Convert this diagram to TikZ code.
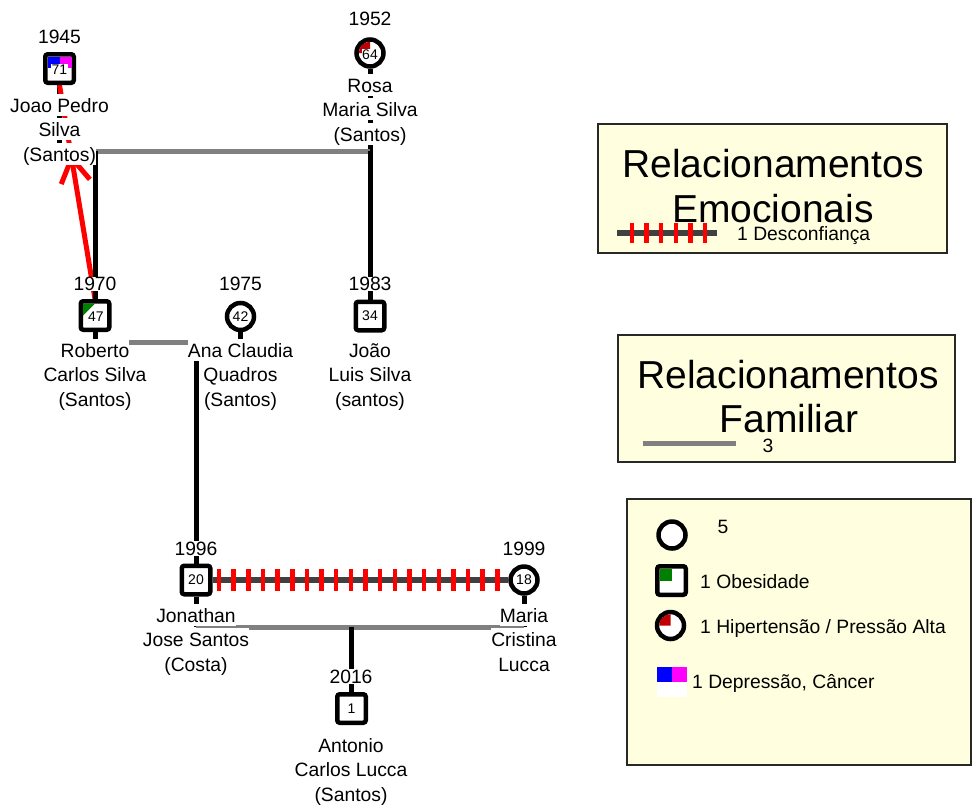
\documentclass[tikz,border=0pt]{standalone}
\usepackage{fontspec}
\setmainfont{Liberation Sans}
\usetikzlibrary{decorations.markings,calc}
\pgfdeclarelayer{back}
\pgfsetlayers{back,main}

\definecolor{legfill}{RGB}{255,255,224}
\definecolor{legedge}{RGB}{40,40,40}
\definecolor{famgray}{RGB}{128,128,128}
\definecolor{emogray}{RGB}{64,64,64}
\definecolor{hyperred}{RGB}{192,0,0}
\definecolor{obgreen}{RGB}{0,128,0}
\definecolor{depblue}{RGB}{0,0,255}
\definecolor{depmag}{RGB}{255,0,255}

\newcommand{\lblfont}{\fontsize{19.3}{23}\selectfont}
\newcommand{\agefont}{\fontsize{14}{16}\selectfont}
\newcommand{\bigfont}{\fontsize{39}{45}\selectfont}

\tikzset{
  male/.style={rectangle, draw, line width=4.5pt, fill=white, minimum size=28.5pt,
    inner sep=0pt, rounded corners=2.5pt},
  female/.style={circle, draw, line width=4.5pt, fill=white, minimum size=27pt, inner sep=0pt},
  age/.style={fill=white, inner sep=0.4pt, font=\agefont},
  yearlbl/.style={anchor=base, fill=white, inner sep=0pt, text height=14pt, text depth=0.5pt, font=\lblfont},
  namelbl/.style={anchor=base, fill=white, inner sep=0pt, text height=18.5pt, text depth=3.5pt, font=\lblfont},
  famline/.style={famgray, line width=5pt},
  kinline/.style={black, line width=5pt},
  legbox/.style={draw=legedge, line width=1.5pt, fill=legfill},
  bigtxt/.style={anchor=base, inner sep=0pt, font=\bigfont},
  legtxt/.style={anchor=base west, inner sep=0pt, font=\lblfont},
  distrust/.style={emogray, line width=6pt, postaction={decorate},
    decoration={markings, mark=between positions 6.5pt and 290pt step 14.65pt with
      {\draw[red, line width=4.5pt] (0,-11) -- (0,11);}}},
}

% three-line name label: name, x, first baseline, lines
\newcommand{\pname}[6]{%
  \node[namelbl] (#1-1) at (#2,#3) {#4};
  \node[namelbl] (#1-2) at (#2,#3+24.7) {#5};
  \node[namelbl] (#1-3) at (#2,#3+49.4) {#6};
}

\begin{document}
\begin{tikzpicture}[x=1pt,y=-1pt]
\useasboundingbox (0,0) rectangle (973,807);

% ---------- legends ----------
\path[legbox] (598,124) rectangle (947,253);
\node[bigtxt] (emoT1) at (773,177) {Relacionamentos};
\node[bigtxt] (emoT2) at (773,222) {Emocionais};
\draw[emogray, line width=6pt] (617,233) -- (717,233);
\foreach \i in {0,...,5} \draw[red, line width=4.5pt] ({632+14.6*\i},223) -- ++(0,20);
\node[legtxt] (emoL) at (737,240) {1 Desconfiança};

\path[legbox] (618,335) rectangle (955,462);
\node[bigtxt] (famT1) at (788,388) {Relacionamentos};
\node[bigtxt] (famT2) at (789,432) {Familiar};
\draw[famline] (643,443) -- (736,443);
\node[anchor=base, inner sep=0pt, font=\lblfont] (famL) at (768,452) {3};

\path[legbox] (627,499) rectangle (971,765);
\node[female] (lgF) at (672,535) {};
\node[inner sep=0pt, font=\lblfont] (lgFt) at (723,527) {5};
\node[male] (lgOb) at (671.5,580.5) {};
\fill[obgreen] ($(lgOb)+(-11.5,-11.5)$) rectangle ($(lgOb)+(0.5,0.5)$);
\node[legtxt] (lgObt) at (700,588) {1 Obesidade};
\node[female] (lgHy) at (670.5,625.5) {};
\fill[hyperred] (lgHy.center) -- ++(-11.25,0) arc[start angle=180, end angle=270, radius=11.25] -- cycle;
\node[legtxt] (lgHyt) at (700,633) {1 Hipertensão / Pressão Alta};
\fill[depblue] (657,667) rectangle (672,682);
\fill[depmag] (672,667) rectangle (687,682);
\fill[white] (657,682) rectangle (687,697);
\node[legtxt] (lgDet) at (692,688) {1 Depressão, Câncer};

% ---------- people ----------
\node[male]   (jp)   at (59.5,68.5) {};
\node[female] (rosa) at (370,53) {};
\node[male]   (rob)  at (95,315.5) {};
\node[female] (ana)  at (240.5,316.5) {};
\node[male]   (joao) at (370,316) {};
\node[male]   (jon)  at (196,580) {};
\node[female] (mar)  at (524,580) {};
\node[male]   (ant)  at (351.5,708.5) {};

% health markers
\fill[depblue] ($(jp)+(-12,-12)$) rectangle ($(jp)+(0,-1)$);
\fill[depmag]  ($(jp)+(0,-12)$) rectangle ($(jp)+(12,-1)$);
\fill[hyperred] (rosa.center) -- ++(-11.25,0) arc[start angle=180, end angle=270, radius=11.25] -- cycle;
\fill[obgreen] ($(rob)+(-12,-12)$) -- ($(rob)+(0,-12)$) -- ($(rob)+(-12,0)$) -- cycle;

% ages
\node[age] (jpA)   at ($(jp)+(0,1)$)   {71};
\node[age] (rosaA) at ($(rosa)+(0,1.5)$) {64};
\node[age] (robA)  at ($(rob)+(1,1)$)  {47};
\node[age] (anaA)  at (ana)  {42};
\node[age] (joaoA) at (joao) {34};
\node[age] (jonA)  at (jon)  {20};
\node[age] (marA)  at (mar)  {18};
\node[age] (antA)  at (ant)  {1};

% birth years
\node[yearlbl] (jpY)   at (59.5,43)  {1945};
\node[yearlbl] (rosaY) at (370,25)   {1952};
\node[yearlbl] (robY)  at (95,290.5) {1970};
\node[yearlbl] (anaY)  at (240.5,290.5) {1975};
\node[yearlbl] (joaoY) at (370,290.5) {1983};
\node[yearlbl] (jonY)  at (196,555)  {1996};
\node[yearlbl] (marY)  at (524,555)  {1999};
\node[yearlbl] (antY)  at (351,683)  {2016};

% names
\pname{jpN}{59.5}{112}{Joao Pedro}{Silva}{(Santos)}
\pname{rosaN}{370}{92}{Rosa}{Maria Silva}{(Santos)}
\pname{robN}{95}{357}{Roberto}{Carlos Silva}{(Santos)}
\pname{anaN}{240.5}{357}{Ana Claudia}{Quadros}{(Santos)}
\pname{joaoN}{370}{357}{João}{Luis Silva}{(santos)}
\pname{jonN}{196}{622}{Jonathan}{Jose Santos}{(Costa)}
\pname{marN}{524}{622}{Maria}{Cristina}{Lucca}
\pname{antN}{351}{752}{Antonio}{Carlos Lucca}{(Santos)}

% ---------- connectors (behind people and labels) ----------
\coordinate (u1) at (0,151);
\coordinate (u2) at (0,342.5);
\coordinate (u3) at (0,627);
\begin{pgfonlayer}{back}
  % Joao Pedro + Rosa
  \draw[kinline] (jp.south) -- (jp |- u1);
  \draw[kinline] (rosa.south) -- (rosa |- u1);
  \draw[famline] (jp |- u1) -- (rosa |- u1);
  % hostile arrow from Roberto towards his father
  \draw[red, line width=5pt, postaction={decorate},
    decoration={markings, mark=at position 142.9pt with
      {\draw[red, line width=5pt] (-24,14.5) -- (0,0) -- (-24,-14.5);}}]
    (rob.north) -- (jp.south);
  \draw[kinline] (rob |- u1) -- (rob.north);
  \draw[kinline] (joao |- u1) -- (joao.north);
  % Roberto + Ana Claudia
  \draw[kinline] (rob.south) -- (rob |- u2);
  \draw[kinline] (ana.south) -- (ana |- u2);
  \draw[famline] (rob |- u2) -- (ana |- u2);
  \draw[kinline] (jon |- u2) -- (jon.north);
  % Jonathan + Maria
  \draw[kinline] (jon.south) -- (jon |- u3);
  \draw[kinline] (mar.south) -- (mar |- u3);
  \draw[famline] (jon |- u3) -- (mar |- u3);
  \draw[kinline] (ant |- u3) -- (ant.north);
  \draw[distrust] (jon.east) -- (mar.west);
\end{pgfonlayer}
\end{tikzpicture}
\end{document}
